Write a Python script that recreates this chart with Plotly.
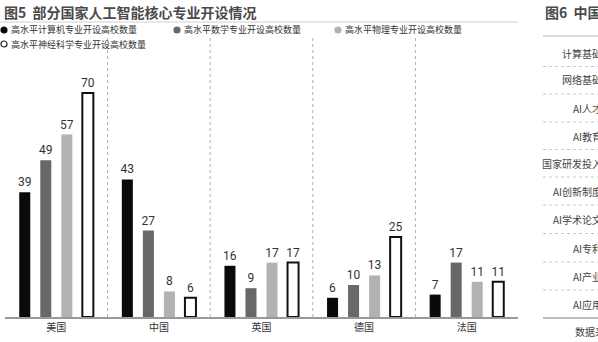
import plotly.graph_objects as go

countries = ["美国", "中国", "英国", "德国", "法国"]
series_names = [
    "高水平计算机专业开设高校数量",
    "高水平数学专业开设高校数量",
    "高水平物理专业开设高校数量",
    "高水平神经科学专业开设高校数量",
]
computer = [39, 43, 16, 6, 7]
math = [49, 27, 9, 10, 17]
physics = [57, 8, 17, 13, 11]
neuro = [70, 6, 17, 25, 11]

fig6_rows = ["计算基础", "网络基础", "AI人才", "AI教育", "国家研发投入",
             "AI创新制度", "AI学术论文", "AI专利", "AI产业", "AI应用"]

W, H = 598, 342
ML, MR, MT, MB = 5, 80, 60, 25
PW, PH = W - ML - MR, H - MT - MB
CJK = "Noto Sans CJK SC"


def px(x):
    return (x - ML) / PW


def py(y):
    return (H - MB - y) / PH


fills = ["#0a0a0a", "#686868", "#b2b2b2", "#ffffff"]
lines = ["#0a0a0a", "#686868", "#b2b2b2", "#111111"]
lwidths = [0, 0, 0, 2]

fig = go.Figure()
for name, vals, fc, lc, lw in zip(series_names, [computer, math, physics, neuro], fills, lines, lwidths):
    fig.add_trace(go.Bar(
        x=countries, y=vals, name=name,
        marker=dict(color=fc, line=dict(color=lc, width=lw)),
        text=[str(v) for v in vals], textposition="outside",
        textfont=dict(family="Roboto", size=12, color="#333333"),
        constraintext="none", cliponaxis=False, showlegend=False,
    ))

shapes = []
annotations = []

# title and rule
annotations.append(dict(x=px(2), y=py(12), xref="paper", yref="paper", xanchor="left", yanchor="middle",
                        text="<b>图5  部分国家人工智能核心专业开设情况</b>", showarrow=False,
                        font=dict(family=CJK, size=14, color="#4a4a4a")))
shapes.append(dict(type="line", xref="paper", yref="paper", x0=px(0), x1=px(518), y0=py(22), y1=py(22),
                   line=dict(color="#d0d0d0", width=1)))

# legend (manual)
leg_pos = [(4, 30), (177, 30), (338, 30), (4, 44)]
for (lx, ly), name, fc, lc in zip(leg_pos, series_names, fills, lines):
    shapes.append(dict(type="circle", xref="paper", yref="paper",
                       x0=px(lx - 3), x1=px(lx + 3), y0=py(ly + 3), y1=py(ly - 3),
                       fillcolor=fc, line=dict(color=lc if fc != "#ffffff" else "#222222", width=1.2)))
    annotations.append(dict(x=px(lx + 5), y=py(ly), xref="paper", yref="paper", xanchor="left", yanchor="middle",
                            text=name, showarrow=False, font=dict(family=CJK, size=9, color="#333333")))

# dotted separators
for s in [0.5, 1.5, 2.5, 3.5]:
    shapes.append(dict(type="line", xref="x", yref="paper", x0=s, x1=s, y0=0, y1=py(37),
                       line=dict(color="#b0b0b0", width=1, dash="dot")))

# partial figure 6 on right
annotations.append(dict(x=px(543), y=py(12), xref="paper", yref="paper", xanchor="left", yanchor="middle",
                        text="<b>图6  中国与主要国家人工智能发展指标</b>", showarrow=False,
                        font=dict(family=CJK, size=14, color="#4a4a4a")))
shapes.append(dict(type="line", xref="paper", yref="paper", x0=px(543), x1=px(600), y0=py(36), y1=py(36),
                   line=dict(color="#bbbbbb", width=1)))
row_y = [53, 80, 108, 136, 163, 191, 219, 248, 276, 304]
for i, (lab, ry) in enumerate(zip(fig6_rows, row_y)):
    annotations.append(dict(x=px(604), y=py(ry), xref="paper", yref="paper", xanchor="right", yanchor="middle",
                            text=lab, showarrow=False, font=dict(family=CJK, size=10, color="#444444")))
    if i < len(row_y) - 1:
        ly = (ry + row_y[i + 1]) / 2
        shapes.append(dict(type="line", xref="paper", yref="paper", x0=px(543), x1=px(600), y0=py(ly), y1=py(ly),
                           line=dict(color="#c8c8c8", width=1, dash="dot")))
shapes.append(dict(type="line", xref="paper", yref="paper", x0=px(543), x1=px(600), y0=py(318), y1=py(318),
                   line=dict(color="#aaaaaa", width=1.5)))
annotations.append(dict(x=px(573), y=py(331), xref="paper", yref="paper", xanchor="left", yanchor="middle",
                        text="数据来源：", showarrow=False, font=dict(family=CJK, size=10, color="#444444")))

fig.update_layout(
    width=W, height=H, margin=dict(l=ML, r=MR, t=MT, b=MB),
    paper_bgcolor="white", plot_bgcolor="white",
    barmode="group", bargap=0.18, bargroupgap=0.476,
    shapes=shapes, annotations=annotations, showlegend=False,
    xaxis=dict(showgrid=False, showline=True, linecolor="#999999", linewidth=1.5, ticks="",
               tickfont=dict(family=CJK, size=10, color="#333333"), fixedrange=True),
    yaxis=dict(range=[0, PH / 3.2], visible=False, showgrid=False, fixedrange=True),
)

fig.write_html("out.html")
